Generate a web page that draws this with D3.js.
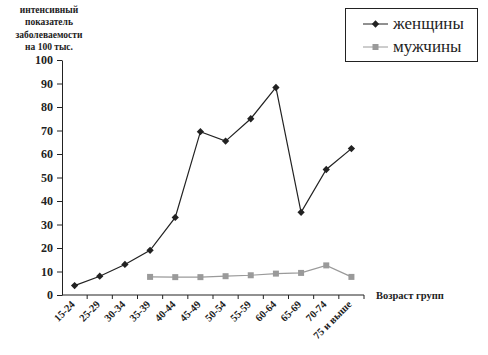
<!DOCTYPE html>
<html>
  <head>
    <meta charset="utf-8">
    <title>Заболеваемость по возрасту</title>
    <script src="https://d3js.org/d3.v7.min.js"></script>
    <style>
      body { margin: 0; background: #fff; }
      svg text { fill: #222; }
      .domain, .tick line { stroke: #222; }
    </style>
  </head>
  <body>
    <svg id="chart" width="488" height="355"></svg>
    <script>
      // data
      var ageGroups = ["15-24", "25-29", "30-34", "35-39", "40-44", "45-49",
        "50-54", "55-59", "60-64", "65-69", "70-74", "75 и выше"];
      var women = [4, 8, 13, 19, 33, 69.5, 65.5, 75, 88.3, 35.2, 53.4, 62.3];
      var men = [null, null, null, 7.7, 7.6, 7.6, 8, 8.4, 9.1, 9.4, 12.6, 7.7];
      var yTicks = [0, 10, 20, 30, 40, 50, 60, 70, 80, 90, 100];
      var titleLines = ["интенсивный", "показатель", "заболеваемости", "на 100 тыс."];

      var serif = "'Liberation Serif', 'Times New Roman', Tinos, serif";
      var chart = d3.select("#chart");

      var x = d3.scaleBand()
        .domain(ageGroups)
        .range([62, 364]);
      var y = d3.scaleLinear()
        .domain([0, 100])
        .range([295, 60]);

      // y axis
      var yAxis = d3.axisLeft(y)
        .tickValues(yTicks)
        .tickSize(5)
        .tickSizeOuter(0)
        .tickPadding(4);
      chart.append("g")
        .attr("transform", "translate(62, 0)")
        .call(yAxis)
        .attr("font-family", null)
        .attr("font-size", null)
        .selectAll("text")
          .style("font-family", serif)
          .style("font-weight", "bold")
          .style("font-size", "12px");

      // x axis
      var xAxis = d3.axisBottom(x)
        .tickSize(0)
        .tickSizeOuter(0)
        .tickFormat("");
      var xg = chart.append("g")
        .attr("transform", "translate(0, 295)")
        .call(xAxis);
      xg.select(".domain").attr("d", "M62,0H364");
      // tick marks on the band edges
      xg.selectAll(".edge")
        .data(ageGroups)
        .enter().append("line")
          .attr("stroke", "#222")
          .attr("x1", function(d) { return x(d) + x.bandwidth(); })
          .attr("x2", function(d) { return x(d) + x.bandwidth(); })
          .attr("y1", 0)
          .attr("y2", 4);
      // rotated category labels
      chart.append("g")
        .selectAll("text")
        .data(ageGroups)
        .enter().append("text")
          .attr("transform", function(d) {
            return "translate(" + (x(d) + x.bandwidth() / 2 + 1) + ", 305) rotate(-45)";
          })
          .attr("text-anchor", "end")
          .style("font-family", serif)
          .style("font-weight", "bold")
          .style("font-size", "10.5px")
          .text(function(d) { return d; });

      chart.append("text")
        .attr("x", 376)
        .attr("y", 299)
        .style("font-family", serif)
        .style("font-weight", "bold")
        .style("font-size", "10.5px")
        .text("Возраст групп");

      // y title
      chart.append("g")
        .selectAll("text")
        .data(titleLines)
        .enter().append("text")
          .attr("x", 49)
          .attr("y", function(d, i) { return 13 + i * 12.3; })
          .attr("text-anchor", "middle")
          .style("font-family", serif)
          .style("font-weight", "bold")
          .style("font-size", "9.5px")
          .text(function(d) { return d; });

      // lines
      var px = function(d, i) { return x(ageGroups[i]) + x.bandwidth() / 2; };
      var line = d3.line()
        .defined(function(d) { return d !== null; })
        .x(px)
        .y(function(d) { return y(d); });

      chart.append("path")
        .datum(men)
        .attr("fill", "none")
        .attr("stroke", "#9a9a9a")
        .attr("stroke-width", 1.2)
        .attr("d", line);
      chart.append("g")
        .selectAll("rect")
        .data(men.map(function(d, i) { return { v: d, i: i }; }).filter(function(d) { return d.v !== null; }))
        .enter().append("rect")
          .attr("x", function(d) { return px(d.v, d.i) - 3; })
          .attr("y", function(d) { return y(d.v) - 3; })
          .attr("width", 6)
          .attr("height", 6)
          .attr("fill", "#9a9a9a");

      chart.append("path")
        .datum(women)
        .attr("fill", "none")
        .attr("stroke", "#222")
        .attr("stroke-width", 1.2)
        .attr("d", line);
      var diamond = d3.symbol().type(d3.symbolDiamond2).size(34);
      chart.append("g")
        .selectAll("path")
        .data(women)
        .enter().append("path")
          .attr("d", diamond)
          .attr("transform", function(d, i) { return "translate(" + px(d, i) + "," + y(d) + ")"; })
          .attr("fill", "#222");

      // legend
      var legend = chart.append("g");
      legend.append("rect")
        .attr("x", 345.5)
        .attr("y", 8.5)
        .attr("width", 132)
        .attr("height", 53)
        .attr("fill", "#fff")
        .attr("stroke", "#222");
      legend.append("line")
        .attr("x1", 363).attr("x2", 388).attr("y1", 24).attr("y2", 24)
        .attr("stroke", "#222");
      legend.append("path")
        .attr("d", diamond)
        .attr("transform", "translate(375.5,24)")
        .attr("fill", "#222");
      legend.append("text")
        .attr("x", 393).attr("y", 29)
        .style("font-family", serif)
        .style("font-size", "17px")
        .text("женщины");
      legend.append("line")
        .attr("x1", 363).attr("x2", 388).attr("y1", 47).attr("y2", 47)
        .attr("stroke", "#9a9a9a");
      legend.append("rect")
        .attr("x", 372.5).attr("y", 44).attr("width", 6).attr("height", 6)
        .attr("fill", "#9a9a9a");
      legend.append("text")
        .attr("x", 393).attr("y", 52)
        .style("font-family", serif)
        .style("font-size", "17px")
        .text("мужчины");
    </script>
  </body>
</html>
